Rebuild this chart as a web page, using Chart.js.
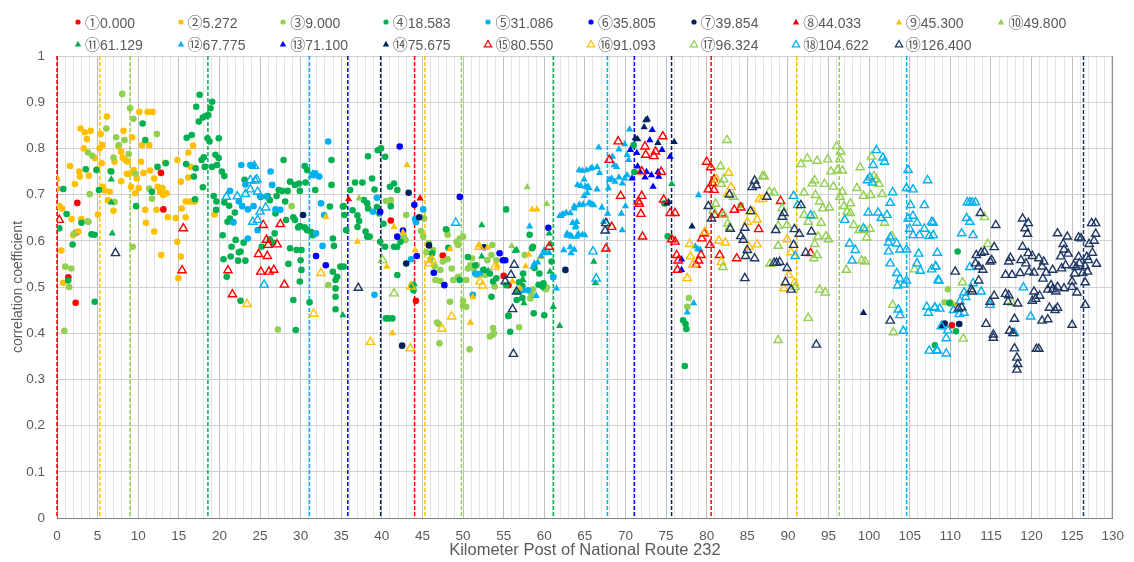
<!DOCTYPE html>
<html>
<head>
<meta charset="utf-8">
<script src="https://cdn.jsdelivr.net/npm/chart.js@4"></script>
<style>
  body { margin: 0; background: #fff; }
  #wrap { position: relative; width: 1134px; height: 562px; }
  #legend { position: absolute; left: 0; top: 0; width: 1134px; height: 56px;
            font-family: "Liberation Sans", "Noto Sans CJK JP", sans-serif; font-size: 14px; color: #595959; }
  .item { position: absolute; height: 16px; line-height: 16px; white-space: nowrap; }
  .item svg { position: absolute; left: -5px; top: 3px; }
  .item span { position: absolute; left: 7px; top: 0; }
  .item b { font-weight: normal; font-family: "Noto Sans CJK JP", sans-serif; font-size: 15px; }
</style>
</head>
<body>
<div id="wrap">
  <canvas id="scatter-chart" width="1134" height="562"></canvas>
  <div id="legend"></div>
</div>
<script>
// kilometer posts of the 19 points (legend labels + dashed lines)
const posts = [0.000, 5.272, 9.000, 18.583, 31.086, 35.805, 39.854, 44.033, 45.300, 49.800,
               61.129, 67.775, 71.100, 75.675, 80.550, 91.093, 96.324, 104.622, 126.400];
const marks = ['①','②','③','④','⑤','⑥','⑦','⑧','⑨','⑩','⑪','⑫','⑬','⑭','⑮','⑯','⑰','⑱','⑲'];
const colors = ['#ff0000','#ffc000','#92d050','#00b050','#00b0f0','#0000ff','#002060',
                '#ff0000','#ffc000','#92d050','#00b050','#00b0f0','#0000ff','#002060',
                '#ff0000','#ffc000','#92d050','#00b0f0','#203864'];
const xTicks = { min: 0, max: 130, step: 5 };
const yTicks = { min: 0, max: 1, step: 0.1 };

// [km, correlation coefficient]
const s1 = [[1.4,0.521],[2.3,0.466],[2.4,0.618],[2.5,0.682],[12.8,0.747],[13.1,0.668],[41.1,0.644],[44.2,0.470],[47.5,0.568],[55.0,0.524],[55.6,0.504],[110.2,0.417]];
const s2 = [[0.0,0.733],[0.05,0.713],[0.29,0.675],[0.61,0.670],[0.53,0.579],[0.77,0.509],[1.59,0.762],[1.79,0.647],[1.99,0.612],[2.20,0.723],[2.61,0.620],[2.73,0.750],[2.81,0.739],[3.01,0.647],[2.89,0.843],[3.30,0.800],[3.42,0.835],[3.67,0.820],[3.91,0.741],[4.15,0.838],[4.64,0.779],[4.93,0.755],[5.05,0.657],[5.25,0.800],[5.38,0.831],[5.50,0.768],[5.58,0.807],[5.66,0.717],[5.86,0.709],[6.15,0.869],[6.27,0.688],[6.48,0.706],[6.96,0.665],[7.09,0.771],[7.57,0.804],[7.90,0.793],[7.90,0.729],[8.19,0.838],[8.10,0.780],[8.43,0.775],[8.59,0.745],[8.71,0.771],[8.92,0.745],[9.12,0.717],[9.25,0.824],[9.45,0.753],[9.62,0.703],[9.81,0.735],[10.06,0.714],[10.14,0.879],[10.35,0.771],[10.47,0.807],[10.63,0.747],[10.87,0.667],[10.96,0.639],[11.16,0.879],[11.36,0.807],[11.45,0.752],[11.77,0.879],[11.97,0.735],[11.97,0.620],[12.25,0.667],[12.42,0.717],[12.67,0.706],[12.83,0.569],[12.99,0.714],[13.07,0.699],[13.32,0.769],[13.48,0.703],[13.65,0.651],[14.62,0.649],[14.82,0.775],[14.94,0.519],[14.82,0.598],[15.24,0.566],[15.36,0.670],[15.24,0.728],[15.85,0.651],[16.17,0.791],[16.17,0.737],[16.46,0.760],[16.75,0.806],[15.85,0.685],[16.34,0.685],[16.65,0.685],[16.98,0.685],[19.4,0.657],[110.5,0.461]];
const s3 = [[8.03,0.918],[9.00,0.887],[9.41,0.864],[6.07,0.843],[7.29,0.824],[7.61,0.807],[8.31,0.818],[8.83,0.788],[3.83,0.791],[4.36,0.784],[6.96,0.780],[6.56,0.751],[4.03,0.701],[7.09,0.684],[11.36,0.713],[11.69,0.691],[12.30,0.831],[9.65,0.745],[3.87,0.641],[2.08,0.615],[1.01,0.544],[1.75,0.540],[9.32,0.587],[0.9,0.405],[1.5,0.500],[3.79,0.642],[27.2,0.408],[28.9,0.675],[33.4,0.504],[40.5,0.686],[41.1,0.688],[43.0,0.656],[42.9,0.602],[42.7,0.609],[44.8,0.621],[45.1,0.609],[45.5,0.575],[46.0,0.560],[46.5,0.545],[47.5,0.555],[45.8,0.595],[48.0,0.623],[48.1,0.613],[49.2,0.598],[49.4,0.591],[49.6,0.605],[50.0,0.609],[48.1,0.560],[48.6,0.540],[47.2,0.537],[46.6,0.515],[47.2,0.513],[48.8,0.515],[49.4,0.522],[50.4,0.515],[50.6,0.540],[50.9,0.547],[51.3,0.540],[51.1,0.562],[51.7,0.547],[51.7,0.526],[52.7,0.526],[53.0,0.558],[53.5,0.569],[53.6,0.591],[54.1,0.558],[53.9,0.501],[48.4,0.468],[50.0,0.459],[50.4,0.457],[50.0,0.470],[46.8,0.423],[47.0,0.420],[47.1,0.378],[50.8,0.365],[53.7,0.411],[53.3,0.393],[53.6,0.396],[53.8,0.400],[56.9,0.413],[58.3,0.475],[58.4,0.486],[58.6,0.495],[60.0,0.497],[60.2,0.495],[60.3,0.499],[57.6,0.569],[46.3,0.580],[45.2,0.648],[77.8,0.476],[77.6,0.457],[84.2,0.677],[109.7,0.495],[109.3,0.467],[110.0,0.467]];
const s4 = [[0.77,0.712],[0.28,0.627],[1.18,0.658],[1.92,0.592],[1.38,0.514],[3.01,0.639],[3.54,0.755],[4.24,0.614],[4.61,0.613],[4.85,0.753],[5.17,0.710],[4.64,0.468],[6.68,0.750],[9.74,0.675],[10.54,0.854],[10.87,0.818],[11.69,0.706],[12.38,0.760],[13.4,0.768],[15.9,0.766],[15.97,0.823],[16.58,0.829],[17.07,0.757],[16.86,0.739],[17.0,0.690],[17.96,0.716],[17.8,0.775],[18.08,0.781],[17.14,0.890],[17.56,0.916],[17.47,0.858],[17.96,0.867],[18.29,0.870],[18.61,0.872],[19.1,0.901],[18.9,0.887],[18.53,0.822],[18.78,0.815],[18.2,0.760],[19.1,0.760],[19.51,0.786],[19.92,0.822],[19.3,0.697],[19.63,0.685],[19.6,0.667],[19.7,0.764],[19.9,0.779],
  [20.3,0.750],[20.6,0.740],[20.6,0.683],[21.2,0.676],[21.9,0.661],[21.3,0.648],[21.0,0.641],[21.7,0.640],[20.4,0.612],[22.0,0.602],[21.5,0.587],[22.6,0.577],[22.4,0.575],[22.98,0.596],[21.4,0.566],[22.3,0.557],[23.2,0.557],[20.5,0.560],[20.9,0.522],[22.6,0.470],[23.1,0.732],[27.9,0.775],[27.3,0.710],[27.7,0.708],[28.4,0.708],[28.7,0.728],[29.3,0.721],[29.8,0.724],[29.9,0.708],[30.6,0.726],[30.5,0.762],[30.8,0.753],[33.8,0.775],[33.8,0.721],[26.2,0.688],[26.9,0.659],[28.1,0.685],[28.2,0.645],[29.1,0.651],[29.3,0.645],[29.7,0.629],[29.9,0.632],[30.5,0.629],[30.8,0.623],[31.3,0.619],[31.5,0.612],[26.8,0.616],[26.6,0.596],[26.2,0.603],[25.2,0.587],[28.7,0.584],[29.5,0.580],[28.5,0.550],[30.0,0.558],[29.9,0.512],[29.1,0.472],[31.1,0.467],[29.4,0.407],[33.6,0.674],[33.97,0.605],[34.1,0.589],[33.97,0.533],[34.3,0.515],[34.5,0.522],[34.3,0.497],[34.3,0.479],[34.3,0.452],[34.9,0.544],[35.3,0.544],[35.4,0.656],[35.2,0.674],[35.6,0.623],[25.08,0.695],[25.94,0.697],[27.04,0.697],[30.1,0.580],[30.1,0.537],[31.8,0.710],
  [35.3,0.675],[36.1,0.710],[36.4,0.666],[36.7,0.726],[37.0,0.655],[37.2,0.643],[37.0,0.630],[37.6,0.726],[38.3,0.783],[37.8,0.688],[38.2,0.681],[38.3,0.670],[38.0,0.620],[38.2,0.609],[38.5,0.609],[38.8,0.735],[39.1,0.711],[39.5,0.796],[39.9,0.800],[40.4,0.782],[39.4,0.673],[39.7,0.659],[40.2,0.637],[40.4,0.587],[41.0,0.717],[41.1,0.675],[41.9,0.710],[41.5,0.724],[41.5,0.587],[41.9,0.587],[42.3,0.598],[41.9,0.526],[40.8,0.432],[41.3,0.432],[40.5,0.432],[43.9,0.493],[43.7,0.504],[39.8,0.598],
  [55.3,0.668],[51.5,0.547],[50.6,0.565],[52.5,0.537],[53.3,0.529],[53.7,0.512],[54.1,0.519],[55.3,0.504],[56.6,0.490],[57.4,0.529],[58.2,0.613],[58.6,0.587],[58.8,0.541],[59.4,0.529],[59.9,0.508],[60.0,0.439],[58.7,0.443],[55.6,0.438],[56.6,0.472],[57.3,0.476],[59.8,0.501],[59.3,0.505],[61.1,0.522],[47.9,0.625],[48.2,0.585],[46.2,0.573],[49.6,0.515],[53.5,0.479],[55.6,0.437],[55.8,0.403],[56.9,0.510],[57.3,0.502],[58.5,0.584],[60.9,0.555],
  [71.0,0.807],[71.1,0.749],[75.2,0.610],[74.8,0.681],[77.1,0.428],[77.4,0.420],[77.5,0.409],[77.3,0.329],[110.9,0.577],[109.9,0.465],[110.7,0.404],[108.1,0.374]];
const s5 = [[22.7,0.764],[23.8,0.764],[24.1,0.762],[26.3,0.750],[23.2,0.722],[26.5,0.721],[21.3,0.708],[22.4,0.685],[22.8,0.675],[23.5,0.668],[24.2,0.675],[25.0,0.697],[25.8,0.696],[26.9,0.668],[27.5,0.667],[24.7,0.623],[21.7,0.640],[23.5,0.605],[31.5,0.743],[31.8,0.746],[32.3,0.739],[32.5,0.681],[33.4,0.815],[32.7,0.589],[32.9,0.656],[31.9,0.616],[39.4,0.693],[38.9,0.663],[45.1,0.668],[44.1,0.647],[44.2,0.640],[43.6,0.560],[39.1,0.483],[51.2,0.483],[52.0,0.528],[58.0,0.493],[51.5,0.529],[57.3,0.493],[61.1,0.521]];
const s6 = [[42.2,0.804],[49.6,0.695],[39.8,0.663],[41.9,0.609],[42.6,0.622],[44.0,0.678],[33.1,0.547],[31.9,0.567],[44.3,0.567],[47.7,0.504],[54.5,0.573],[54.9,0.558],[55.2,0.558],[60.5,0.628],[46.4,0.531]];
const s7 = [[30.3,0.656],[43.3,0.704],[44.6,0.651],[45.8,0.590],[43.0,0.551],[42.5,0.373],[52.6,0.586],[62.6,0.537],[109.3,0.421],[111.1,0.420]];
const s8 = [[35.9,0.690],[44.7,0.692]];
const s9 = [[43.1,0.764],[41.5,0.630],[33.1,0.652],[37.0,0.598],[40.6,0.544],[42.6,0.618],[44.1,0.580],[41.3,0.400],[48.4,0.582],[51.2,0.478],[50.9,0.423],[51.9,0.590],[53.0,0.585],[54.2,0.546],[57.7,0.545],[58.1,0.570],[58.5,0.668],[59.1,0.668],[59.6,0.565],[56.1,0.512],[57.0,0.497],[82.4,0.700]];
const s10 = [[37.2,0.692],[57.9,0.716],[60.3,0.680],[56.0,0.589]];
const s11 = [[6.68,0.733],[6.68,0.683],[6.8,0.616],[52.3,0.634],[35.2,0.439],[44.0,0.506],[52.3,0.566],[53.1,0.535],[56.4,0.578],[57.4,0.515],[57.5,0.465],[60.6,0.616],[60.7,0.533],[61.1,0.457],[61.9,0.416],[60.8,0.593],[56.6,0.580],[52.7,0.537],[57.3,0.516],[66.1,0.555],[66.3,0.509],[75.7,0.723]];
const s12 = [[64.3,0.753],[64.7,0.752],[65.2,0.753],[65.7,0.756],[65.9,0.758],[66.5,0.760],[66.8,0.747],[66.7,0.802],[68.4,0.782],[69.2,0.798],[69.9,0.809],[70.5,0.841],[70.2,0.786],[70.4,0.775],[68.6,0.764],[68.9,0.760],[68.3,0.735],[68.0,0.732],[67.9,0.714],[68.7,0.728],[69.2,0.737],[69.6,0.724],[69.9,0.735],[70.2,0.742],[64.1,0.721],[64.5,0.719],[65.1,0.717],[65.5,0.714],[64.9,0.697],[65.3,0.703],[66.5,0.711],[64.4,0.677],[65.7,0.681],[66.1,0.677],[67.1,0.672],[70.0,0.675],[67.8,0.659],[69.5,0.659],[67.3,0.641],[69.6,0.623],[63.9,0.632],[64.7,0.613],[64.0,0.609],[79.0,0.699],[78.4,0.465],[77.6,0.445],[78.6,0.588],[78.9,0.582],[79.2,0.581],
  [61.9,0.654],[62.3,0.658],[62.7,0.661],[63.2,0.660],[63.7,0.675],[64.3,0.678],[64.8,0.679],[65.5,0.682],[65.9,0.678],[63.5,0.639],[63.8,0.629],[64.2,0.615],[62.8,0.616],[63.2,0.612],[58.2,0.631],[58.8,0.551],[59.2,0.553],[58.6,0.544],[59.6,0.567],[60.0,0.580],[60.6,0.574],[61.5,0.497],[62.4,0.580],[63.2,0.586],[63.3,0.573],[59.0,0.481],[64.9,0.733],[65.4,0.717],[63.7,0.670],[62.1,0.654],[62.8,0.611],[63.4,0.609],[64.0,0.641],[65.0,0.612],[63.7,0.581],[60.0,0.573]];
const s13 = [[70.6,0.797],[71.4,0.790],[71.5,0.761],[71.8,0.749],[72.6,0.749],[73.2,0.742],[74.1,0.739],[73.3,0.840],[73.0,0.818],[74.5,0.797],[75.5,0.782],[74.0,0.749],[73.4,0.717],[70.8,0.735],[72.4,0.737],[76.9,0.560],[76.9,0.537]];
const s14 = [[72.5,0.861],[72.7,0.863],[72.3,0.846],[71.2,0.822],[71.5,0.820],[74.0,0.812],[76.0,0.814],[75.3,0.684],[75.1,0.681],[78.2,0.631],[99.3,0.444],[108.9,0.413]];
const s15 = [[0.28,0.645],[15.55,0.627],[15.4,0.536],[21.05,0.536],[21.6,0.484],[25.4,0.634],[27.5,0.636],[25.8,0.602],[26.0,0.591],[27.1,0.592],[24.8,0.571],[25.9,0.567],[25.1,0.533],[26.1,0.533],[26.7,0.537],[28.0,0.505],[60.6,0.587],
  [69.1,0.815],[68.0,0.775],[72.4,0.804],[72.5,0.786],[73.7,0.793],[73.5,0.783],[74.6,0.826],[72.0,0.750],[74.4,0.749],[69.4,0.697],[72.0,0.697],[71.6,0.685],[71.7,0.680],[71.9,0.658],[74.7,0.689],[75.5,0.660],[76.1,0.660],[72.1,0.609],[68.3,0.630],[67.6,0.583],[75.7,0.603],[76.1,0.598],[76.3,0.569],[76.5,0.557],[76.4,0.537],[79.3,0.569],[79.0,0.557],[78.7,0.548],[79.4,0.605],[79.7,0.616],[80.4,0.591],[80.0,0.771],[80.5,0.759],[80.9,0.733],[80.7,0.725],[80.2,0.711],[80.9,0.710],[81.0,0.656],[81.9,0.659],[83.4,0.667],[81.6,0.569],[83.7,0.562],[84.2,0.672],[86.4,0.625],[89.1,0.686],[92.8,0.573]];
const s16 = [[23.4,0.463],[31.6,0.442],[38.6,0.381],[32.5,0.530],[43.6,0.501],[43.5,0.367],[46.2,0.558],[45.8,0.551],[48.6,0.436],[47.4,0.410],[52.1,0.512],[52.4,0.503],[52.0,0.587],[53.9,0.543],[77.9,0.593],[78.0,0.566],[78.3,0.548],[77.6,0.519],[79.8,0.619],[82.7,0.747],[81.2,0.733],[83.0,0.716],[81.5,0.600],[82.3,0.596],[81.8,0.554],[85.0,0.641],[85.2,0.587],[85.7,0.663],[86.5,0.690],[86.9,0.690],[86.2,0.646],[86.2,0.592],[89.9,0.603],[90.4,0.575],[90.1,0.526],[89.5,0.497],[90.8,0.509]];
const s17 = [[40.1,0.558],[41.5,0.486],[82.5,0.818],[81.7,0.761],[82.1,0.733],[81.8,0.723],[81.1,0.680],[80.8,0.665],[82.1,0.656],[83.3,0.695],[82.6,0.637],[82.8,0.629],[82.0,0.543],[86.9,0.740],
  [87.1,0.739],[87.7,0.706],[88.3,0.704],[89.3,0.670],[89.9,0.634],[88.8,0.589],[87.8,0.550],[90.9,0.500],[92.4,0.778],[91.6,0.766],[93.6,0.773],[94.9,0.776],[96.0,0.805],[96.5,0.793],[96.4,0.776],[95.3,0.750],[96.1,0.753],[96.7,0.752],[93.3,0.731],[93.0,0.724],[94.5,0.723],[95.6,0.717],[96.7,0.706],[96.4,0.695],[93.4,0.699],[92.0,0.704],[93.9,0.685],[94.3,0.670],[95.1,0.672],[96.9,0.675],[97.7,0.681],[98.5,0.714],[98.9,0.759],[99.3,0.697],[100.2,0.699],[100.3,0.782],[100.6,0.740],[100.9,0.733],[101.2,0.723],[101.6,0.701],[97.3,0.663],[97.7,0.660],[98.1,0.634],[98.8,0.623],[99.5,0.623],[100.1,0.626],[101.9,0.639],[93.2,0.654],[92.5,0.641],[92.0,0.656],[94.1,0.639],[94.7,0.610],[95.0,0.603],[93.7,0.609],[93.3,0.593],[88.8,0.632],[93.6,0.569],[93.2,0.562],[97.2,0.537],[99.1,0.557],[99.5,0.555],[99.7,0.607],[93.9,0.494],[94.6,0.488],[92.5,0.433],[88.8,0.385],[102.9,0.461],[103.0,0.402],[102.8,0.610],[105.6,0.538],
  [114.2,0.651],[114.6,0.593],[111.5,0.510],[111.6,0.388],[117.6,0.466]];
const s18 = [[20.85,0.695],[24.3,0.762],[23.8,0.731],[24.4,0.730],[24.6,0.733],[23.8,0.711],[22.2,0.696],[23.2,0.701],[24.7,0.706],[25.7,0.672],[25.0,0.663],[24.1,0.641],[24.7,0.645],[25.5,0.505],[31.5,0.742],[49.1,0.639],[66.0,0.577],[66.4,0.518],
  [90.7,0.697],[91.2,0.677],[92.8,0.655],[90.9,0.567],[97.0,0.645],[97.6,0.594],[98.3,0.580],[97.9,0.557],[99.3,0.627],[99.9,0.661],[101.1,0.661],[101.5,0.649],[102.2,0.656],[99.8,0.731],[100.4,0.726],[100.1,0.737],[100.5,0.764],[100.9,0.796],[101.7,0.780],[101.9,0.771],[102.6,0.682],[102.9,0.705],[104.6,0.714],[105.4,0.711],[104.8,0.753],[105.1,0.677],[104.8,0.648],[105.4,0.654],[105.9,0.639],[105.0,0.626],[105.4,0.612],[106.2,0.612],[106.8,0.626],[107.4,0.610],[106.8,0.677],[107.7,0.641],[107.2,0.731],[102.6,0.607],[102.4,0.596],[103.4,0.594],[103.8,0.581],[104.6,0.581],[102.6,0.551],[102.4,0.577],[103.4,0.530],[103.8,0.518],[104.6,0.514],[104.3,0.505],[103.5,0.503],[105.9,0.551],[106.3,0.535],[107.7,0.538],[108.2,0.545],[108.5,0.515],[106.1,0.572],[103.6,0.451],[103.8,0.439],[104.2,0.405],[107.1,0.457],[107.3,0.444],[108.1,0.455],[107.4,0.362],[108.3,0.363],
  [107.9,0.639],[107.9,0.612],[108.4,0.574],[108.2,0.544],[108.6,0.514],[108.1,0.456],[108.7,0.453],[108.9,0.415],[109.5,0.389],[108.4,0.362],[109.5,0.356],[112.1,0.683],[112.4,0.683],[112.7,0.683],[113.1,0.683],[112.0,0.649],[112.4,0.641],[111.4,0.616],[112.8,0.612],[112.4,0.543],[112.8,0.508],[113.8,0.490],[111.7,0.488],[111.9,0.478],[111.2,0.469],[110.4,0.450],[111.7,0.444],[111.1,0.441],[109.7,0.406],[114.9,0.461],[119.0,0.499],[119.9,0.436],[117.9,0.400]];
const s19 = [[7.2,0.573],[37.1,0.498],[56.3,0.548],[55.9,0.526],[55.2,0.512],[56.6,0.490],[56.1,0.452],[56.2,0.355],[67.6,0.638],[67.5,0.622],[80.2,0.675],[80.6,0.648],[82.8,0.700],[85.9,0.730],[86.1,0.720],[85.6,0.716],[85.4,0.664],[82.9,0.626],[84.2,0.610],[84.7,0.628],[84.5,0.602],[84.8,0.567],[85.0,0.580],[85.9,0.562],[84.7,0.519],
  [87.4,0.695],[89.5,0.660],[89.3,0.652],[88.5,0.623],[91.6,0.677],[90.8,0.625],[91.4,0.615],[92.9,0.620],[90.7,0.591],[92.2,0.574],[88.3,0.552],[88.6,0.552],[89.0,0.554],[89.9,0.541],[89.7,0.510],[90.4,0.494],[93.5,0.375],[102.6,0.427],
  [113.7,0.660],[115.6,0.634],[118.9,0.648],[119.2,0.627],[119.6,0.638],[119.5,0.615],[123.2,0.616],[124.4,0.609],[123.9,0.593],[124.0,0.581],[125.8,0.607],[126.1,0.605],[127.4,0.638],[127.9,0.638],[127.9,0.615],[127.7,0.600],[127.1,0.593],[128.0,0.550],[127.5,0.574],[126.8,0.565],[127.0,0.558],[126.6,0.545],[126.9,0.533],[126.3,0.530],[125.9,0.551],[125.8,0.565],[125.5,0.543],[125.2,0.547],[125.3,0.529],[124.2,0.547],[123.7,0.540],[124.5,0.572],[123.6,0.566],[125.0,0.512],[125.6,0.488],[126.6,0.510],[126.6,0.461],[125.0,0.418],[122.6,0.537],[121.8,0.531],[121.4,0.518],[122.4,0.504],[122.6,0.495],[122.0,0.494],[123.0,0.490],[123.2,0.500],[124.0,0.497],[125.0,0.500],[120.3,0.531],[119.7,0.533],[119.3,0.551],[118.7,0.558],[120.1,0.567],[119.6,0.573],[120.9,0.562],[121.5,0.555],[121.3,0.544],[118.6,0.530],[117.6,0.526],[116.8,0.526],[117.2,0.555],[117.4,0.563],[118.9,0.587],[115.4,0.586],[115.1,0.558],[114.9,0.555],[113.8,0.574],[114.2,0.576],[113.2,0.569],[113.1,0.551],[113.5,0.544],[114.0,0.537],[113.5,0.514],[112.7,0.490],[111.4,0.456],[111.0,0.453],[110.6,0.533],[115.4,0.481],[114.9,0.468],[116.8,0.485],[117.2,0.482],[118.3,0.464],[117.1,0.468],[120.3,0.490],[120.5,0.474],[121.0,0.481],[120.1,0.470],[122.2,0.455],[122.9,0.450],[123.2,0.455],[122.0,0.430],[121.3,0.427],[117.9,0.431],[114.4,0.420],[115.3,0.397],[115.3,0.390],[117.3,0.405],[117.7,0.400],[117.9,0.367],[118.2,0.347],[118.3,0.333],[118.2,0.321],[120.6,0.366],[120.9,0.366],[112.6,0.495]];

const series = [s1,s2,s3,s4,s5,s6,s7,s8,s9,s10,s11,s12,s13,s14,s15,s16,s17,s18,s19];
const labels = posts.map((p, i) => marks[i] + p.toFixed(3));
const kind = i => i < 7 ? 'dot' : (i < 14 ? 'tri' : 'open');

const datasets = series.map((s, i) => ({
  label: labels[i],
  data: s.map(p => ({ x: p[0], y: p[1] })),
  pointStyle: kind(i) === 'dot' ? 'circle' : 'triangle',
  pointRadius: kind(i) === 'dot' ? 3.3 : (kind(i) === 'tri' ? 4.2 : 4.8),
  backgroundColor: kind(i) === 'open' ? 'rgba(0,0,0,0)' : colors[i],
  borderColor: colors[i],
  borderWidth: kind(i) === 'open' ? 1.4 : 0,
  order: -i
}));

// dashed vertical lines at each kilometer post + right border
const postLines = {
  id: 'postLines',
  beforeDatasetsDraw(chart) {
    const { ctx, chartArea: a, scales: { x } } = chart;
    ctx.save();
    ctx.strokeStyle = '#808080';
    ctx.lineWidth = 1;
    ctx.beginPath();
    ctx.moveTo(a.right - 0.5, a.top);
    ctx.lineTo(a.right - 0.5, a.bottom);
    ctx.stroke();
    ctx.setLineDash([4, 2]);
    ctx.lineWidth = 1.5;
    posts.forEach((p, i) => {
      const px = x.getPixelForValue(p);
      ctx.strokeStyle = colors[i];
      ctx.beginPath();
      ctx.moveTo(px, a.top);
      ctx.lineTo(px, a.bottom);
      ctx.stroke();
    });
    ctx.restore();
  }
};

const family = '"Liberation Sans", Arial, sans-serif';
const tickFont = { family, size: 13.5 };

new Chart(document.getElementById("scatter-chart"), {
  type: 'scatter',
  data: { datasets },
  plugins: [postLines],
  options: {
    responsive: false,
    animation: false,
    layout: { padding: { left: 6, right: 13, top: 56, bottom: 0 } },
    plugins: { legend: { display: false }, tooltip: { enabled: false } },
    scales: {
      x: {
        type: 'linear',
        min: xTicks.min, max: xTicks.max,
        afterFit: s => { s.height = 44; },
        border: { color: '#808080' },
        grid: {
          drawTicks: false,
          color: c => (c.tick && c.tick.value % 5 === 0) ? '#bfbfbf' : '#e4e4e4'
        },
        ticks: {
          stepSize: 1, autoSkip: false, maxRotation: 0, padding: 10,
          color: '#595959', font: tickFont,
          callback: v => v % xTicks.step === 0 ? v : ''
        },
        title: { display: true, text: 'Kilometer Post of National Route 232', color: '#595959',
                 font: { family, size: 16.5 }, padding: 2 }
      },
      y: {
        min: yTicks.min, max: yTicks.max,
        afterFit: s => { s.width = 51; },
        border: { color: '#808080' },
        grid: { drawTicks: false, color: '#d0d0d0' },
        ticks: { stepSize: yTicks.step, padding: 12, color: '#595959', font: tickFont,
                 callback: v => String(+v.toFixed(1)) },
        title: { display: true, text: 'correlation coefficient', color: '#595959',
                 font: { family, size: 14 }, padding: 4 }
      }
    }
  }
});

// legend: two rows, fixed columns
const legend = document.getElementById('legend');
labels.forEach((t, i) => {
  const row = i < 10 ? 0 : 1, col = i % 10;
  const d = document.createElement('div');
  d.className = 'item';
  d.style.left = (78 + col * 102.6) + 'px';
  d.style.top = (row === 0 ? 14 : 36) + 'px';
  let svg;
  if (kind(i) === 'dot') svg = `<circle cx="5" cy="5" r="2.6" fill="${colors[i]}"/>`;
  else if (kind(i) === 'tri') svg = `<polygon points="5,1.8 8.2,7.6 1.8,7.6" fill="${colors[i]}"/>`;
  else svg = `<polygon points="5,1.5 8.6,7.8 1.4,7.8" fill="none" stroke="${colors[i]}" stroke-width="1.3"/>`;
  d.innerHTML = `<svg width="10" height="10">${svg}</svg><span><b>${marks[i]}</b>${posts[i].toFixed(3)}</span>`;
  legend.appendChild(d);
});
</script>
</body>
</html>
